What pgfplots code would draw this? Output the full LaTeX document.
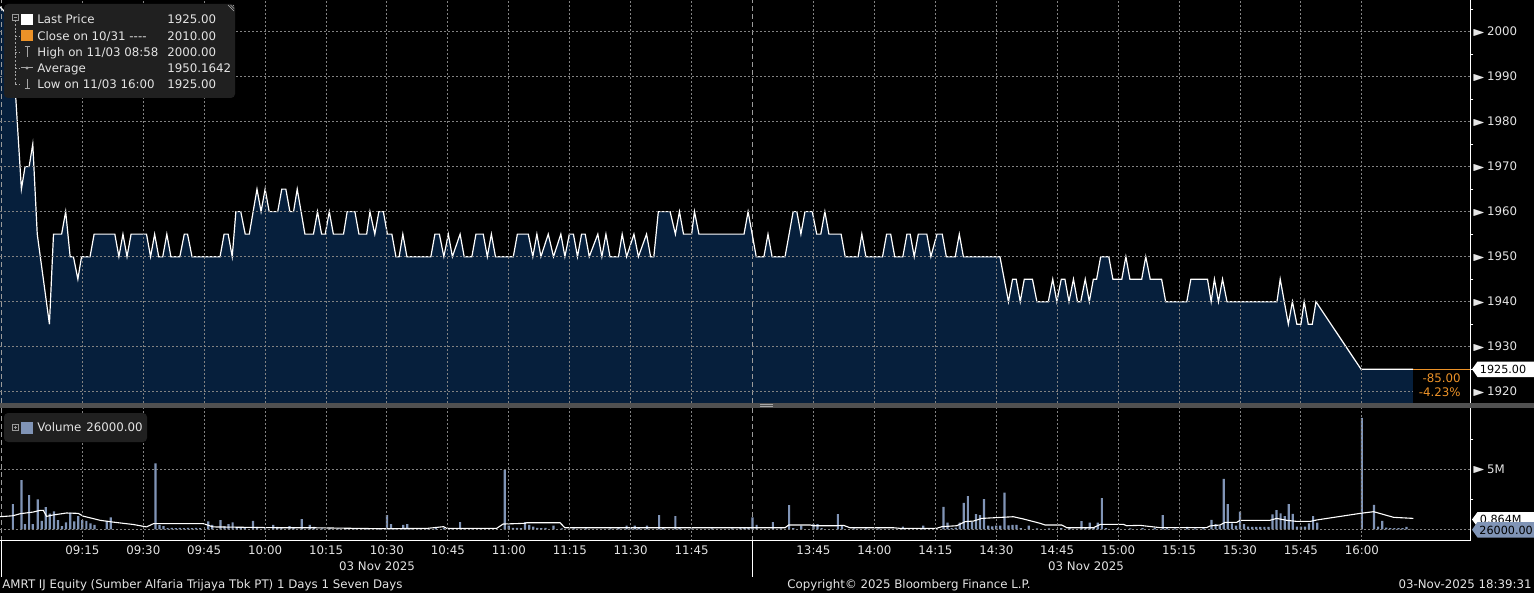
\documentclass[border=0pt]{standalone}
\usepackage{pgfplots}
\pgfplotsset{compat=1.18}
\usepackage{pgfplotstable}
\usepackage{fontspec}
\usepackage{amssymb}
\usepackage{graphicx}
\setmainfont{DejaVu Sans}
\definecolor{navy}{RGB}{6,31,60}
\definecolor{gridc}{RGB}{130,130,130}
\definecolor{volc}{RGB}{128,148,182}
\definecolor{boxc}{RGB}{32,32,32}
\definecolor{orng}{RGB}{236,146,40}
\definecolor{sepc}{RGB}{80,80,80}
\definecolor{txt}{RGB}{228,228,228}
\newcommand{\tri}{\raisebox{0.3pt}{\scalebox{1.15}[0.85]{$\blacktriangleright$}}}

\pgfplotstableread{
t p
-5.3 2005.5
-2.6 2003
0 1965
0.9 1970
1.9 1970
2.8 1975
3.9 1955
6.9 1935
7.9 1955
9.9 1955
10.9 1960
12 1950
12.8 1950
13.9 1945
14.8 1950
16.9 1950
17.9 1955
23 1955
24 1950
25 1955
26 1950
27 1955
30.8 1955
31.8 1950
32.8 1955
33.8 1950
34.8 1950
35.8 1955
36.8 1950
39 1950
40.1 1955
40.9 1955
42 1950
48.9 1950
49.9 1955
50.9 1955
51.9 1950
52.8 1960
54 1960
55.1 1955
56.1 1955
58 1965
59 1960
60 1965
61 1960
63.1 1960
64.1 1965
65.1 1965
66.1 1960
67 1960
67.9 1965
69.8 1955
71.9 1955
72.9 1960
73.9 1955
74.8 1955
75.8 1960
76.8 1955
79.3 1955
80.2 1960
82.1 1960
83.1 1955
85 1955
85.8 1960
87 1955
88 1960
89.1 1960
90.1 1955
91.2 1955
92.2 1950
93 1950
93.9 1955
94.9 1950
100.8 1950
101.8 1955
102.9 1955
104 1950
105.1 1955
106.1 1950
108 1955
109 1950
110.9 1950
111.9 1955
113.7 1955
114.7 1950
115.7 1955
116.7 1950
121.1 1950
122.1 1955
124.8 1955
125.9 1950
126.9 1955
127.9 1950
129.7 1955
131 1950
132.8 1955
133.8 1950
134.9 1955
135.9 1955
136.9 1950
137.9 1955
138.8 1955
139.8 1950
141.9 1955
142.9 1950
143.9 1955
144.9 1950
147 1950
147.9 1955
149 1950
150.8 1955
151.9 1950
153.9 1955
154.9 1950
155.7 1950
156.8 1960
159.7 1960
161 1955
162 1960
163 1955
165 1955
165.7 1960
166.8 1955
177.9 1955
178.9 1960
180.9 1950
182.8 1950
183.8 1955
184.8 1950
188 1950
190 1960
190.9 1960
191.9 1955
192.9 1960
194.7 1960
195.8 1955
196.8 1955
197.8 1960
198.8 1955
201.8 1955
202.8 1950
206 1950
206.9 1955
207.9 1950
212 1950
213 1955
214 1955
215 1950
217 1950
218 1955
218.8 1955
219.8 1950
220.8 1955
222.9 1955
223.9 1950
225.4 1955
226.7 1955
227.7 1950
229.9 1950
230.9 1955
231.9 1950
240.9 1950
243 1940
244 1945
244.9 1945
245.9 1940
246.9 1945
248.9 1945
250 1940
252.8 1940
253.9 1945
254.9 1940
256 1945
256.9 1945
257.9 1940
259 1945
260 1940
260.8 1940
261.9 1945
262.9 1940
263.9 1945
264.7 1945
265.7 1950
267.7 1950
268.7 1945
270.9 1945
271.9 1950
272.9 1945
275.8 1945
276.8 1950
277.9 1945
280.7 1945
281.7 1940
286.9 1940
287.9 1945
292 1945
292.9 1940
293.7 1945
294.7 1940
295.7 1945
296.8 1940
309.1 1940
309.9 1945
311.9 1935
312.9 1940
314 1935
315 1935
315.8 1940
316.8 1935
317.8 1935
318.7 1940
329.8 1925
342.6 1925
}\pricedata

\pgfplotstableread{
t v
-2.1 2.1
0 4.1
0.9 0.44
1.9 2.85
2.8 0.44
4 2.5
5 0.7
6 1.86
7 1.3
8 1.5
9 0.77
10 0.27
11 0.58
12 1.4
13 0.66
14 1.1
15 0.77
16 0.7
17 0.5
18 0.36
21 0.7
22 1.0
33 5.5
34 0.38
35 0.27
36 0.1
37 0.12
38 0.1
39 0.12
40 0.1
41 0.12
42 0.1
43 0.12
44 0.1
46 0.66
47 0.36
49 0.77
50 0.27
51 0.44
52 0.58
53 0.15
54 0.12
55 0.12
57 0.7
58 0.2
60 0.1
62 0.36
63 0.2
64 0.1
66 0.27
67 0.1
69 0.86
71 0.36
72 0.2
74 0.08
76 0.08
78 0.08
80 0.08
82 0.08
85 0.08
88 0.08
90 1.19
91 0.44
92 0.1
94 0.36
95 0.44
96 0.08
98 0.08
100 0.08
102 0.1
104 0.1
106 0.1
108 0.61
109 0.1
111 0.08
113 0.08
119 4.94
120 0.3
121 0.12
122 0.12
123 0.1
124 0.61
125 0.36
126 0.22
127 0.12
128 0.1
129 0.12
131 0.3
133 0.08
136 0.08
139 0.08
145 0.08
147 0.1
149 0.3
150 0.1
151 0.3
152 0.1
154 0.3
157 1.19
158 0.1
161 1.11
162 0.1
165 0.08
170 0.08
175 0.08
177 0.1
178 0.1
179 0.12
180 1.0
181 0.36
185 0.61
187 0.08
189 2.02
190 0.1
192 0.3
195 0.44
196 0.44
197 0.1
201 1.27
202 0.3
205 0.08
208 0.08
211 0.08
217 0.22
222 0.3
227 1.88
228 0.55
229 0.1
230 0.15
231 0.55
232 2.2
233 2.77
234 0.64
235 1.27
236 1.19
237 2.52
238 0.3
239 0.25
240 0.3
241 0.3
242 3.05
243 0.33
244 0.36
245 0.36
246 0.1
248 0.3
250 0.08
253 0.08
256 0.1
258 0.1
261 0.69
262 0.1
263 0.55
264 0.1
265 0.55
266 2.6
267 0.1
270 0.1
273 0.08
276 0.1
279 0.1
281 1.19
282 0.1
284 0.08
287 0.2
289 0.08
291 0.1
293 0.78
294 0.44
295 0.3
296 4.2
297 2.1
298 0.5
299 0.3
300 1.47
301 0.44
302 0.22
303 0.2
304 0.2
305 0.2
306 0.2
307 0.2
308 1.25
309 1.6
310 1.33
311 1.1
312 2.1
313 1.28
314 0.22
315 0.22
316 0.22
317 0.5
318 1.1
319 0.55
330 9.3
333 2.03
334 0.22
335 0.7
336 0.14
337 0.1
338 0.1
339 0.1
340 0.1
341 0.2
342 0.03
}\voldata

\pgfplotstableread{
t a
-5.3 1.05
-2.1 1.13
-0.3 1.3
2.9 1.44
4.6 1.58
5.4 1.58
6.2 1.08
7.9 1.2
11.1 1.36
14 1.33
15.2 1.1
19.4 0.75
22.6 0.6
27.6 0.4
30.8 0.2
32.5 0.47
44.8 0.47
47.2 0.2
63.7 0.13
71.9 0.13
88.3 0.05
100 0.08
103.9 0.22
104.7 0.08
117 0.08
118.6 0.44
124 0.5
124.4 0.55
132.6 0.55
133.8 0.13
181.8 0.13
188 0.13
188.9 0.36
194.2 0.36
195 0.3
200.7 0.3
202.4 0.33
204 0.13
214.7 0.13
216.3 0.08
225.3 0.08
226.6 0.22
230.3 0.3
232.3 0.64
234.4 0.69
236.4 0.91
244.2 1.05
246.7 0.86
250.8 0.5
252 0.36
256.1 0.36
257.4 0.13
263.9 0.13
265.6 0.41
271.3 0.41
272.1 0.3
275.4 0.33
280.3 0.14
291.8 0.14
292.6 0.28
295.1 0.36
296.3 0.58
299.2 0.58
300 0.75
307.4 0.75
309 0.91
311.5 0.75
314 0.66
317.3 0.66
318.9 0.78
329.6 1.33
332.9 1.47
337.8 1.0
342.7 0.91
}\avgdata

\begin{document}
\fontsize{5.9}{7}\selectfont
\begin{tikzpicture}
\fill[black] (0pt,0pt) rectangle (767pt,-296.5pt);
\pgfplotsset{bbg/.style={
  scale only axis, width=735.35pt, xmin=-5.27, xmax=356.8,
  axis line style={draw=none}, axis on top,
  xtick={15,30,45,60,75,90,105,120,135,150,165,195,210,225,240,255,270,285,300,315,330},
  grid=major,
  major grid style={gridc, line width=0.5pt, dash pattern=on 1pt off 1pt},
  ytick pos=right,
  tick style={white, line width=0.5pt},
  major tick length=0pt, minor tick length=1.3pt, tick align=outside,
  yticklabel style={anchor=west, inner sep=0pt, xshift=0.1pt, text=txt},
  /pgf/number format/assume math mode=true,
  /pgf/number format/1000 sep={}}}

\begin{axis}[bbg, at={(0pt,0pt)}, anchor=north west, height=201.5pt,
  ymin=1917.5, ymax=2007.0, xticklabels={},
  ytick={1920,1930,1940,1950,1960,1970,1980,1990,2000},
  minor ytick={1925,1935,1945,1955,1965,1975,1985,1995,2005},
  yticklabel={\tri\hspace{0.5pt}\pgfmathprintnumber{\tick}}]
\addplot[fill=navy, draw=none] table[x=t,y=p]{\pricedata} \closedcycle;
\draw[gridc!80!white, line width=0.5pt, dash pattern=on 2.5pt off 1.5pt] (axis cs:180,1917.5) -- (axis cs:180,2007);
\draw[gridc!80!white, line width=0.5pt, dash pattern=on 2.5pt off 1.5pt] (axis cs:-4.85,1917.5) -- (axis cs:-4.85,2007);
\addplot[white, line width=0.6pt] table[x=t,y=p]{\pricedata};
\end{axis}

\begin{axis}[bbg, at={(0pt,-203.5pt)}, anchor=north west, height=66.85pt,
  ymin=-0.95, ymax=10.2,
  xticklabels={09:15,09:30,09:45,10:00,10:15,10:30,10:45,11:00,11:15,11:30,11:45,13:45,14:00,14:15,14:30,14:45,15:00,15:15,15:30,15:45,16:00},
  xticklabel style={anchor=north, inner sep=0pt, yshift=-2.3pt, text=txt},
  ytick={0,5}, yticklabels={{},{\tri\hspace{0.5pt}5M}}, minor ytick={2.5,7.5}]
\draw[gridc!80!white, line width=0.5pt, dash pattern=on 2.5pt off 1.5pt] (axis cs:180,-0.95) -- (axis cs:180,10.2);
\draw[gridc!80!white, line width=0.5pt, dash pattern=on 2.5pt off 1.5pt] (axis cs:-4.85,-0.95) -- (axis cs:-4.85,10.2);
\addplot[ybar, bar width=1.1pt, fill=volc, draw=none] table[x=t,y=v]{\voldata};
\addplot[white, line width=0.55pt] table[x=t,y=a]{\avgdata};
\end{axis}

\begin{scope}[x=0.5pt, y=-0.5pt, every node/.style={inner sep=0pt, text height=4.3pt, text depth=0pt, text=txt}]
\draw[white, line width=0.6pt] (1470.7,0) -- (1470.7,540.7);
\fill[sepc] (0,403) rectangle (1534,407.5);
\draw[gray!70, line width=0.4pt] (760,404.5) -- (773,404.5) (760,406.2) -- (773,406.2);
\draw[white, line width=0.6pt] (0,540.7) -- (1470.7,540.7);
\draw[white, line width=0.6pt] (1.7,540.7) -- (1.7,577) (752.5,540.7) -- (752.5,577);
% price legend
\fill[boxc, rounded corners=2pt] (4,4) rectangle (235,98);
\draw[gray!60, line width=0.3pt] (228,5) -- (234,11) (230.5,5) -- (234,8.5) (233,5) -- (234,6);
\draw[gray!80, line width=0.4pt] (12,14.5) rectangle (18,20.5);
\draw[gray!80, line width=0.4pt] (13.5,17.5) -- (16.5,17.5);
\draw[gray!70, line width=0.4pt, dash pattern=on 1pt off 0.8pt] (15,20.5) -- (15,84) (15,36) -- (19,36) (15,52) -- (19,52) (15,68) -- (19,68) (15,84) -- (19,84);
\fill[white] (21,14) rectangle (33,25.5);
\fill[orng] (21,30) rectangle (33,41.5);
\draw[gray!70, line width=0.5pt] (24.5,47) -- (29.5,47) (27,47) -- (27,57);
\draw[gray!70, line width=0.5pt] (21,68) -- (33,68);
\fill[gray!70] (27,68) circle (0.8pt);
\draw[gray!70, line width=0.5pt] (27,79) -- (27,89) (24.5,89) -- (29.5,89);
\node[anchor=west] at (37,19.5) {Last Price};
\node[anchor=west] at (167,19.5) {1925.00};
\node[anchor=west] at (37,36) {Close on 10/31 {-}{-}{-}{-}};
\node[anchor=west] at (167,36) {2010.00};
\node[anchor=west] at (37,52) {High on 11/03 08:58};
\node[anchor=west] at (167,52) {2000.00};
\node[anchor=west] at (37,68) {Average};
\node[anchor=west] at (167,68) {1950.1642};
\node[anchor=west] at (37,84) {Low on 11/03 16:00};
\node[anchor=west] at (167,84) {1925.00};
% volume legend
\fill[boxc, rounded corners=2pt] (4,413) rectangle (147,442);
\draw[gray!80, line width=0.4pt] (12,424.5) rectangle (18,430.5);
\draw[gray!80, line width=0.4pt] (13.5,427.5) -- (16.5,427.5) (15,426) -- (15,429);
\fill[volc] (21,421.5) rectangle (33,433.5);
\node[anchor=west] at (37,427.5) {Volume};
\node[anchor=west] at (86,427.5) {26000.00};
% right price tag
\fill[black] (1413,369.2) rectangle (1470.2,402.9);
\draw[orng, line width=0.6pt] (1413,369.2) -- (1470.4,369.2);
\node[anchor=east, text=orng] at (1461,378) {-85.00};
\node[anchor=east, text=orng] at (1461,392.5) {-4.23\%};
\fill[white] (1472,369.2) -- (1477.5,361.5) -- (1534,361.5) -- (1534,377) -- (1477.5,377) -- cycle;
\node[anchor=west, text=black, font=\fontsize{5.6}{7}\selectfont] at (1479.5,369.2) {1925.00};
% volume tags
\fill[white] (1472,519.5) -- (1477.5,512) -- (1534,512) -- (1534,527) -- (1477.5,527) -- cycle;
\node[anchor=west, text=black, font=\fontsize{5.6}{7}\selectfont] at (1479.5,519.5) {0.864M};
\fill[volc] (1472,529.7) -- (1477.5,522) -- (1534,522) -- (1534,537.5) -- (1477.5,537.5) -- cycle;
\node[anchor=west, text=black, font=\fontsize{5.6}{7}\selectfont] at (1479,529.7) {26000.00};
% dates and footer
\node at (377,566) {03 Nov 2025};
\node at (1086,566) {03 Nov 2025};
\node[anchor=west] at (2,584) {AMRT IJ Equity (Sumber Alfaria Trijaya Tbk PT) 1 Days 1 Seven Days};
\node[anchor=west] at (787,584) {Copyright© 2025 Bloomberg Finance L.P.};
\node[anchor=east] at (1532,584) {03-Nov-2025 18:39:31};
\pgfresetboundingbox
\useasboundingbox (0,0) rectangle (1534,593);
\end{scope}
\end{tikzpicture}
\end{document}
